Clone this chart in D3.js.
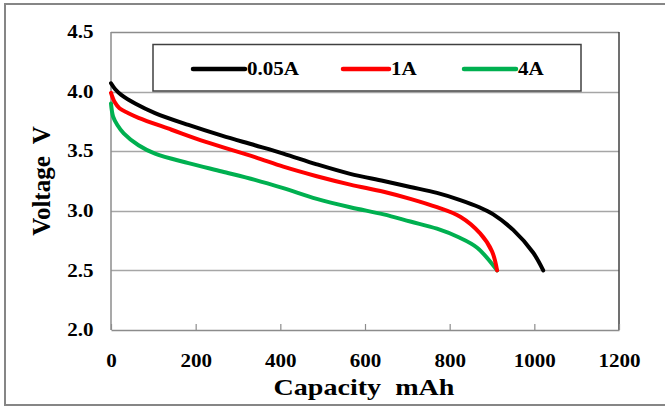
<!DOCTYPE html>
<html><head><meta charset="utf-8">
<script src="https://cdn.jsdelivr.net/npm/d3@7"></script>
<style>html,body{margin:0;padding:0;background:#fff;}svg{display:block;}</style>
</head><body>
<svg id="c" width="665" height="407"></svg>
<script>
const seriesNames = ["0.05A", "1A", "4A"];
const seriesColors = ["#000000", "#ff0000", "#00b050"];
const cap005 = [0, 10, 25, 57, 104, 183, 262, 340, 407, 486, 565, 644, 707, 770, 825, 870, 903, 950, 997, 1021];
const volt005 = [4.07, 4.02, 3.97, 3.90, 3.82, 3.72, 3.63, 3.55, 3.48, 3.39, 3.31, 3.25, 3.20, 3.15, 3.09, 3.03, 2.97, 2.84, 2.65, 2.50];
const cap1 = [0, 9, 20, 40, 65, 143, 222, 340, 407, 486, 565, 644, 707, 770, 825, 872, 900, 912];
const volt1 = [3.99, 3.91, 3.86, 3.82, 3.78, 3.68, 3.58, 3.45, 3.37, 3.29, 3.22, 3.16, 3.10, 3.03, 2.95, 2.81, 2.66, 2.50];
const cap4 = [0, 5, 15, 30, 65, 104, 183, 262, 340, 407, 486, 565, 644, 707, 770, 820, 865, 912];
const volt4 = [3.90, 3.79, 3.72, 3.65, 3.55, 3.48, 3.40, 3.33, 3.26, 3.19, 3.10, 3.03, 2.97, 2.91, 2.85, 2.78, 2.69, 2.50];
const xTicks = [0, 200, 400, 600, 800, 1000, 1200];
const yTicks = [2.0, 2.5, 3.0, 3.5, 4.0, 4.5];

const series = [
  {name: seriesNames[0], color: seriesColors[0], pts: cap005.map((c,i)=>[c, volt005[i]])},
  {name: seriesNames[1], color: seriesColors[1], pts: cap1.map((c,i)=>[c, volt1[i]])},
  {name: seriesNames[2], color: seriesColors[2], pts: cap4.map((c,i)=>[c, volt4[i]])}
];

const FONT = "Liberation Serif";
const SX = 1.17; // horizontal stretch of the reference text
const svg = d3.select("#c");
const L = 111, R = 619, T = 32, B = 330;
const x = d3.scaleLinear().domain([0, 1200]).range([L, R]);
const y = d3.scaleLinear().domain([2.0, 4.5]).range([B, T]);

// outer frame
svg.append("rect").attr("x", 5).attr("y", 4).attr("width", 670).attr("height", 401)
  .attr("fill", "#fff").attr("stroke", "#868686").attr("stroke-width", 2);

// gridlines
svg.append("g").selectAll("line").data(yTicks.filter(v => v > 2.0 && v < 4.5)).join("line")
  .attr("x1", L).attr("x2", R).attr("y1", d => Math.round(y(d)) + 0.5).attr("y2", d => Math.round(y(d)) + 0.5)
  .attr("stroke", "#a6a6a6").attr("stroke-width", 1.5);

// plot border
svg.append("line").attr("x1", L).attr("x2", R).attr("y1", T + 0.5).attr("y2", T + 0.5).attr("stroke", "#8c8c8c").attr("stroke-width", 1.5);
svg.append("line").attr("x1", R).attr("x2", R).attr("y1", T).attr("y2", B).attr("stroke", "#404040").attr("stroke-width", 1.5);
svg.append("line").attr("x1", L).attr("x2", L).attr("y1", T).attr("y2", B).attr("stroke", "#8c8c8c").attr("stroke-width", 1.5);

// x axis
const xAxis = d3.axisBottom(x).tickValues(xTicks).tickSize(-6).tickSizeOuter(0).tickPadding(24).tickFormat(d3.format("d"));
const gx = svg.append("g").attr("transform", `translate(0,${B})`).call(xAxis);
gx.select(".domain").attr("stroke", "#8c8c8c").attr("stroke-width", 1.5);
gx.selectAll(".tick line").attr("stroke", "#8c8c8c").attr("stroke-width", 1.2);
gx.selectAll(".tick text").attr("font-family", FONT).attr("font-weight", "bold").attr("font-size", 18)
  .attr("fill", "#000").attr("transform", `scale(${SX},1)`);

// y axis
const yAxis = d3.axisLeft(y).tickValues(yTicks).tickSize(0).tickPadding(15).tickFormat(d3.format(".1f"));
const gy = svg.append("g").attr("transform", `translate(${L},0)`).call(yAxis);
gy.select(".domain").remove();
gy.selectAll(".tick text").attr("font-family", FONT).attr("font-weight", "bold").attr("font-size", 18)
  .attr("fill", "#000").attr("transform", `scale(${SX},1)`);

// lines
const line = d3.line().x(d => x(d[0])).y(d => y(d[1])).curve(d3.curveCatmullRom.alpha(0.5));
svg.append("g").selectAll("path").data(series.slice().reverse()).join("path")
  .attr("d", d => line(d.pts)).attr("fill", "none").attr("stroke", d => d.color)
  .attr("stroke-width", 4).attr("stroke-linejoin", "round").attr("stroke-linecap", "round");

// legend
svg.append("rect").attr("x", 153).attr("y", 44.5).attr("width", 428).attr("height", 46.5)
  .attr("fill", "#fff").attr("stroke", "#404040").attr("stroke-width", 1.5);
const legX = [193, 343, 464];
const lg = svg.append("g").selectAll("g").data(series).join("g")
  .attr("transform", (d, i) => `translate(${legX[i]},69)`);
lg.append("line").attr("x1", 0).attr("x2", d => d.name === "1A" ? 46 : 52).attr("y1", 0).attr("y2", 0)
  .attr("stroke", d => d.color).attr("stroke-width", 4.5).attr("stroke-linecap", "round");
lg.append("g").attr("transform", d => `translate(${d.name === "1A" ? 48 : 54},6) scale(${SX},1)`)
  .append("text").text(d => d.name)
  .attr("font-family", FONT).attr("font-weight", "bold").attr("font-size", 18).attr("fill", "#000");

// axis titles
svg.append("g").attr("transform", `translate(364,395) scale(${SX},1)`)
  .append("text").attr("text-anchor", "middle")
  .attr("font-family", FONT).attr("font-weight", "bold").attr("font-size", 24)
  .style("white-space", "pre").text("Capacity  mAh");
svg.append("text").attr("transform", `translate(50,${(T + B) / 2}) rotate(-90)`).attr("text-anchor", "middle")
  .attr("font-family", FONT).attr("font-weight", "bold").attr("font-size", 25)
  .style("white-space", "pre").text("Voltage  V");
</script>
</body></html>
